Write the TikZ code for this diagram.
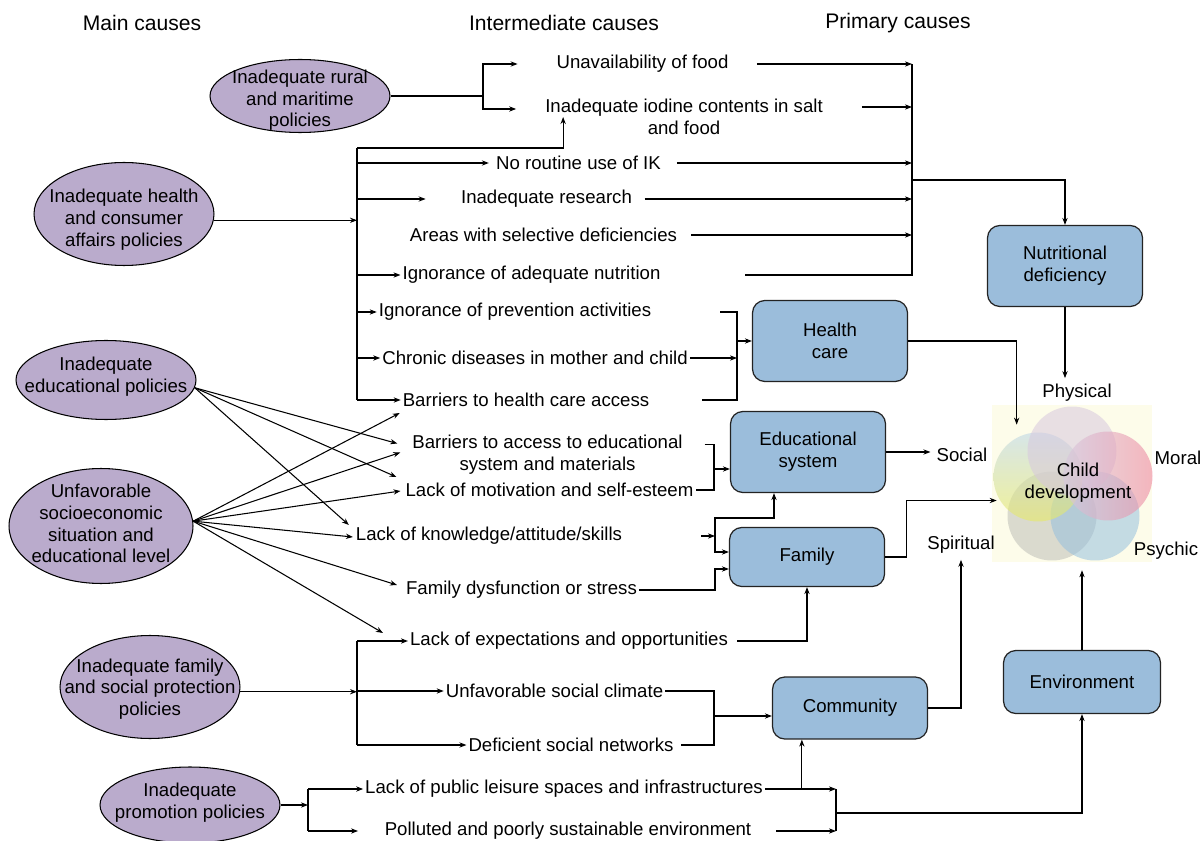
\documentclass[tikz,border=0pt]{standalone}
\usepackage{fontspec}
\setmainfont{Liberation Sans}
\usepackage{xcolor}
\usepackage{tikz}
\usetikzlibrary{arrows.meta, calc, shapes.geometric}

\definecolor{causefill}{RGB}{186,171,204}
\definecolor{boxfill}{RGB}{155,189,219}
\definecolor{boxline}{RGB}{35,35,35}
\definecolor{venncream}{RGB}{253,252,234}
\definecolor{vgrey}{RGB}{196,196,188}
\definecolor{vblue}{RGB}{150,192,222}
\definecolor{vmauve}{RGB}{215,200,222}
\definecolor{vpink}{RGB}{238,135,160}
\definecolor{vyellow}{RGB}{232,234,100}
\definecolor{vsky}{RGB}{190,215,232}

% text of an ellipse, kept out of the shape size
\newcommand{\etext}[2][0pt]{\raisebox{\dimexpr-2.6pt-#1\relax}[0pt][0pt]{\makebox[0pt]{\begin{tabular}{@{}c@{}}#2\end{tabular}}}}

\begin{document}
\begin{tikzpicture}[x=0.02cm, y=-0.02cm, >={Stealth[length=4pt,width=3pt]},
    every node/.style={font=\fontsize{10.6}{12.4}\selectfont},
    link/.style={line width=0.6pt},
    cause/.style={ellipse, draw=black, line width=0.6pt, fill=causefill, minimum width=3.6cm, inner sep=0pt},
    factor/.style={draw=boxline, line width=0.7pt, fill=boxfill, rounded corners=7pt, minimum width=3.1cm, align=center},
    item/.style={inner sep=1pt, align=center},
    head/.style={font=\fontsize{12}{14}\selectfont}]
    \useasboundingbox (0,0) rectangle (1201,841);

    % Column headings
    \node[head] (hmain) at (142,23) {Main causes};
    \node[head] (hinter) at (564,23) {Intermediate causes};
    \node[head] (hprim) at (898,23) {Primary causes};

    % Main causes
    \node[cause, minimum height=1.46cm] (rural) at (300,96) {\etext[2.8pt]{Inadequate rural\\and maritime\\policies}};
    \node[cause, minimum height=2.06cm] (healthpol) at (124,214) {\etext[3.6pt]{Inadequate health\\and consumer\\affairs policies}};
    \node[cause, minimum height=1.58cm] (edupol) at (106,380) {\etext[-1.5pt]{Inadequate\\educational policies}};
    \node[cause, minimum width=3.68cm, minimum height=2.3cm] (socio) at (101,526) {\etext{Unfavorable\\socioeconomic\\situation and\\educational level}};
    \node[cause, minimum height=2.06cm] (famprot) at (150,687) {\etext[1.6pt]{Inadequate family\\and social protection\\policies}};
    \node[cause, minimum height=1.52cm] (promo) at (190,805) {\etext[-1pt]{Inadequate\\promotion policies}};

    % Intermediate causes
    \node[item] (food) at (642.5,64) {Unavailability of food};
    \node[item] (iodine) at (684,117) {Inadequate iodine contents in salt\\and food};
    \node[item] (ik) at (578.5,163) {No routine use of IK};
    \node[item] (research) at (546.5,199) {Inadequate research};
    \node[item] (areas) at (543.5,235) {Areas with selective deficiencies};
    \node[item] (nutri) at (531.5,275) {Ignorance of adequate nutrition};
    \node[item] (prev) at (515,312) {Ignorance of prevention activities};
    \node[item] (chronic) at (535,358) {Chronic diseases in mother and child};
    \node[item] (access) at (526,400) {Barriers to health care access};
    \node[item] (edubar) at (547.5,454.5) {Barriers to access to educational\\system and materials};
    \node[item] (motiv) at (549.5,490) {Lack of motivation and self-esteem};
    \node[item] (know) at (489,536) {Lack of knowledge/attitude/skills};
    \node[item] (dysf) at (521.5,590) {Family dysfunction or stress};
    \node[item] (expect) at (569,641) {Lack of expectations and opportunities};
    \node[item] (climate) at (554.5,691) {Unfavorable social climate};
    \node[item] (networks) at (571,745) {Deficient social networks};
    \node[item] (leisure) at (564,789) {Lack of public leisure spaces and infrastructures};
    \node[item] (polluted) at (568,831) {Polluted and poorly sustainable environment};

    % Primary causes
    \node[factor, minimum height=1.62cm] (nutdef) at (1065,266) {Nutritional\\deficiency};
    \node[factor, minimum height=1.62cm] (health) at (830,341) {Health\\care};
    \node[factor, minimum height=1.62cm] (edusys) at (808,452) {Educational\\system};
    \node[factor, minimum height=1.18cm] (family) at (807,557) {Family};
    \node[factor, minimum height=1.24cm] (community) at (850,708) {Community};
    \node[factor, minimum width=3.14cm, minimum height=1.26cm] (environ) at (1082,682) {Environment};

    % Child development
    \node[fill=venncream, minimum width=3.2cm, minimum height=3.14cm, inner sep=0pt] (venn) at (1072,483.5) {};
    \fill[vgrey, fill opacity=0.6] (1052,516) circle[radius=0.89cm];
    \fill[vblue, fill opacity=0.55] (1095,516) circle[radius=0.89cm];
    \shade[top color=vsky, bottom color=vyellow, fill opacity=0.6] (1038,477) circle[radius=0.89cm];
    \fill[vmauve, fill opacity=0.55] (1072,451) circle[radius=0.89cm];
    \shade[left color=vmauve, right color=vpink, fill opacity=0.6] (1108,476) circle[radius=0.89cm];
    \node[align=center] (child) at (1078,483) {Child\\development};
    \node (physical) at (1077,393) {Physical};
    \node (moral) at (1178,458) {Moral};
    \node (psychic) at (1166,551) {Psychic};
    \node (spiritual) at (961,545) {Spiritual};
    \node (social) at (962,455) {Social};

    % Rural and maritime policies
    \coordinate (rbus) at (483,96);
    \draw[link] (rural.east) -- (rbus);
    \draw[link, ->, shorten >=21pt] (rbus) |- (food);
    \draw[link, ->] (rbus) |- ($(iodine.west)+(-27,-8)$);

    % Health and consumer affairs policies
    \coordinate (hbus) at (357,218);
    \coordinate (htop) at (357,148);
    \coordinate (hbot) at (357,400);
    \draw[link, ->] (healthpol.-4) -- (healthpol.-4 -| hbus);
    \draw[link] (htop) -- (hbot);
    \draw[link, ->] (htop) -| ($(iodine.west)+(20,0)$);
    \draw[link, ->, shorten >=3pt] (ik -| hbus) -- (ik);
    \draw[link, ->, shorten >=19pt] (research -| hbus) -- (research);
    \draw[link, ->] (nutri -| hbus) -- (nutri);
    \draw[link, ->] (prev -| hbus) -- (prev);
    \draw[link, ->] (chronic -| hbus) -- (chronic);
    \draw[link, ->] (access -| hbus) -- (access);

    % Educational policies
    \draw[link, ->] (edupol.-5) -- ($(edubar.west)+(-13,-11)$);
    \draw[link, ->] (edupol.-5) -- ($(motiv.west)+(-7,-13)$);
    \draw[link, ->] (edupol.-5) -- ($(know.west)+(-5,-11)$);

    % Socioeconomic situation
    \draw[link, ->] (socio.3) -- ($(access.west)+(-1,13)$);
    \draw[link, ->] (socio.3) -- ($(edubar.west)+(-10,-2)$);
    \draw[link, ->] (socio.3) -- ($(motiv.west)+(-3,1)$);
    \draw[link, ->] (socio.3) -- ($(know.west)+(-1,1)$);
    \draw[link, ->] (socio.3) -- ($(dysf.west)+(-7,-5)$);
    \draw[link, ->] (socio.3) -- ($(expect.west)+(-25,-8)$);

    % Family and social protection policies
    \coordinate (pbus) at (357,692);
    \draw[link, ->] (famprot.-3) -- (famprot.-3 -| pbus);
    \draw[link] (expect -| pbus) -- (networks -| pbus);
    \draw[link, ->] (expect -| pbus) -- (expect);
    \draw[link, ->] (climate -| pbus) -- (climate);
    \draw[link, ->] (networks -| pbus) -- (networks);

    % Promotion policies
    \coordinate (qbus) at (308,805);
    \draw[link, ->] (promo.east) -- (qbus);
    \draw[link] (leisure -| qbus) -- (polluted -| qbus);
    \draw[link, ->] (leisure -| qbus) -- (leisure);
    \draw[link, ->, shorten >=14pt] (polluted -| qbus) -- (polluted);

    % Nutritional deficiency
    \coordinate (nbus) at (912,180);
    \coordinate (iodr) at ($(iodine.east)+(37,-10)$);
    \draw[link, ->, shorten <=15pt] (food.east) -- (food.east -| nbus);
    \draw[link, ->] (iodr) -- (iodr -| nbus);
    \draw[link, ->, shorten <=8pt] (ik.east) -- (ik.east -| nbus);
    \draw[link, ->, shorten <=6pt] (research.east) -- (research.east -| nbus);
    \draw[link, ->, shorten <=7pt] (areas.east) -- (areas.east -| nbus);
    \draw[link, shorten <=47pt] (nutri.east) -- (nutri.east -| nbus) -- (food.east -| nbus);
    \draw[link, ->] (nbus) -| (nutdef);
    \draw[link, ->] (nutdef) -- (nutdef |- physical.north);

    % Health care
    \coordinate (hcbus) at (737,341);
    \draw[link] ($(prev.east)+(67,0)$) -- (prev.east -| hcbus) -- (access.east -| hcbus) -- ($(access.east)+(51,0)$);
    \draw[link, ->] (chronic) -- (chronic -| hcbus);
    \draw[link, ->] (hcbus) -- (health);
    \draw[link, ->] (health.east) -| ($(venn.north west)+(25,20)$);

    % Educational system
    \coordinate (ebus) at (714,469);
    \coordinate (edur) at ($(edubar.east)+(20,-10)$);
    \draw[link] (edur) -- (edur -| ebus) -- (motiv.east -| ebus) -- (motiv.east);
    \draw[link, ->] (ebus) -- (ebus -| edusys.west);
    \draw[link, ->] (edusys.east) -- (edusys.east -| social.west);

    % Family
    \coordinate (fbus) at (715,536);
    \coordinate (fup) at (715,518);
    \draw[link, ->, shorten <=44pt] (know.east) -- (fbus);
    \draw[link, ->] (fbus) -- (fup) -| ($(edusys.south)+(-34,0)$);
    \draw[link, ->] (fbus) |- ($(family.west)+(0,-5)$);
    \draw[link, ->] (dysf.east) -- (dysf.east -| fbus) |- ($(family.west)+(0,12)$);
    \draw[link, ->, shorten <=4pt] (expect.east) -| (family.south);
    \draw[link, ->] (family.east) -- ++(21,0) |- ($(venn.west)+(5,17)$);

    % Community
    \coordinate (cbus) at (714,716);
    \draw[link, shorten >=3pt] (climate.east) -- (climate.east -| cbus) -- (networks.east -| cbus) -- (networks.east);
    \draw[link, ->] (cbus) -- (cbus -| community.west);
    \draw[link, ->] (community.east) -| (spiritual.south);

    % Environment
    \coordinate (envbus) at (836,813);
    \coordinate (lup) at ($(leisure.east)+(37,0)$);
    \draw[link, ->] (leisure.east) -- (leisure.east -| envbus);
    \draw[link, ->, shorten <=13pt] (polluted.east) -- (polluted.east -| envbus);
    \draw[link] (leisure.east -| envbus) -- (polluted.east -| envbus);
    \draw[link, ->] (lup) -- (lup |- community.south);
    \draw[link, ->] (envbus) -| (environ.south);
    \draw[link, ->, shorten >=4.5pt] (environ.north) -- (environ.north |- venn.south);
\end{tikzpicture}
\end{document}
